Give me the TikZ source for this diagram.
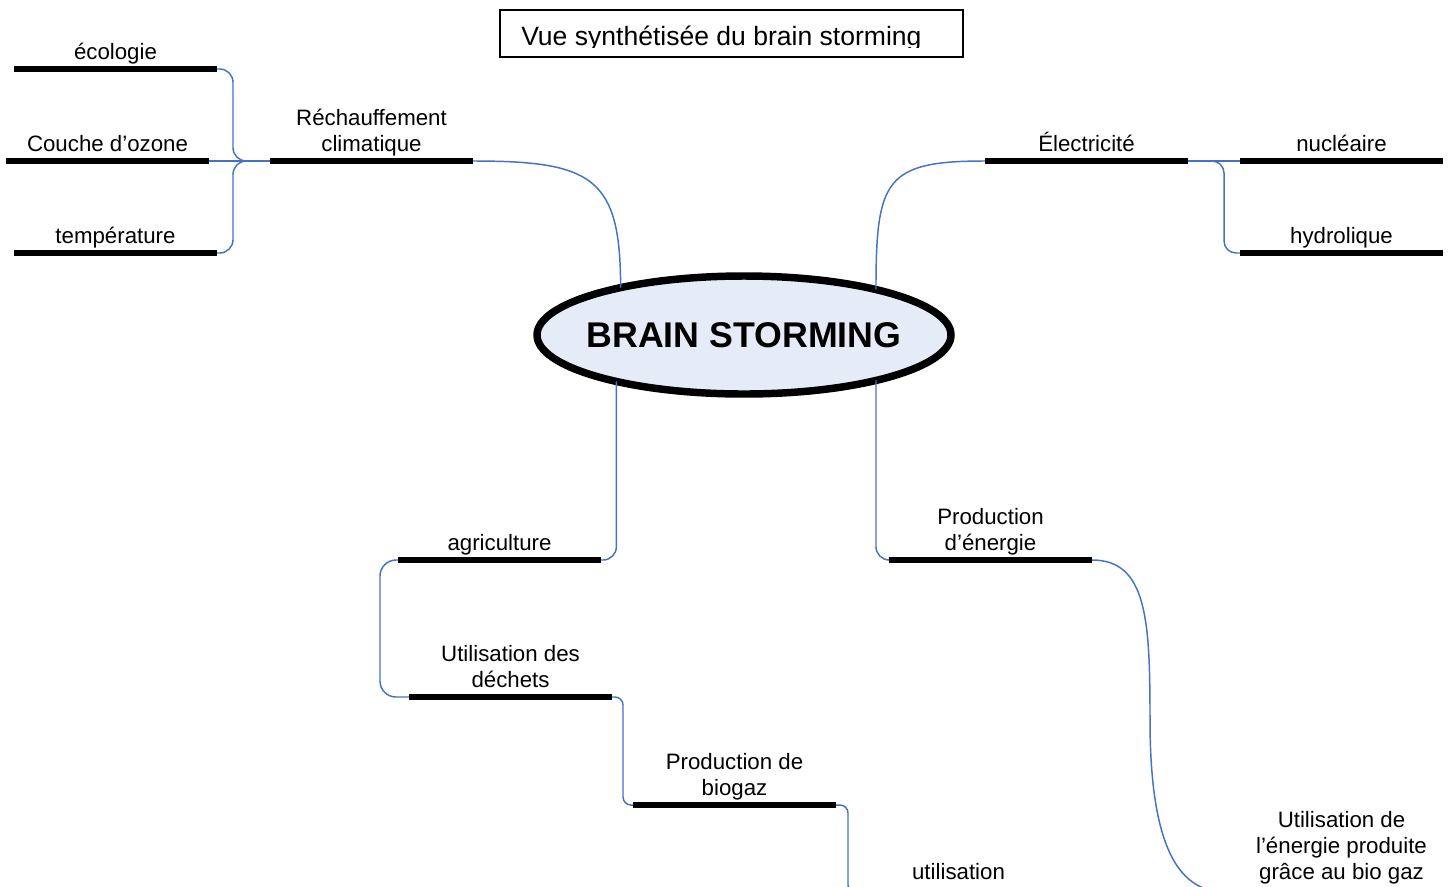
\documentclass[tikz,border=0pt]{standalone}
\usepackage{fontspec}
\setmainfont{Liberation Sans}
\usepackage{xcolor}
\usepackage{tikz}
\usetikzlibrary{shapes.geometric, positioning}

\definecolor{lien}{RGB}{68,114,196}
\definecolor{fond}{RGB}{230,236,247}

\begin{document}
\begin{tikzpicture}[x=0.75pt, y=-0.75pt,
  bar/.style={fill=black, inner sep=0pt, outer sep=0pt, minimum width=152.25pt, minimum height=4.5pt},
  lbl/.style={font=\fontsize{16.7pt}{19.5pt}\selectfont, align=center, inner sep=0pt, outer sep=0pt, execute at end node=\strut},
  link/.style={draw=lien, line width=1.1pt},
  hub/.style={ellipse, draw=black, line width=5.6pt, fill=fond, inner sep=0pt, outer sep=0pt, minimum width=310.5pt, minimum height=88.5pt},
  hubtxt/.style={font=\fontsize{26.8pt}{30pt}\selectfont\bfseries, inner sep=0pt}]
\useasboundingbox (0,0) rectangle (1451,886);
\clip (0,0) rectangle (1451,886);

% Titre
\node[draw, line width=1pt, inner sep=0pt, minimum width=347.25pt, minimum height=35.25pt] (titre) at (731.5,33.5) {};
\begin{scope}
\clip (500,10) rectangle (963,47);
\node[anchor=base west, inner sep=0pt, font=\fontsize{19.9pt}{24pt}\selectfont] (titre-t) at (521,45) {Vue synthétisée du brain storming};
\end{scope}

% Noeuds
\node[hub] (hub) at (744,335) {};
\node[hubtxt] (hub-t) at (hub.center) {BRAIN STORMING};

\node[bar] (eco) at (115.5,69) {};
\node[bar] (couche) at (107.5,161) {};
\node[bar] (temp) at (115.5,253) {};
\node[bar] (rech) at (371.5,161) {};
\node[bar] (elec) at (1086.5,161) {};
\node[bar] (nuc) at (1341.5,161) {};
\node[bar] (hydro) at (1341.5,253) {};
\node[bar] (agri) at (499.5,560) {};
\node[bar] (prod) at (990.5,560) {};
\node[bar] (dech) at (510.5,697) {};
\node[bar] (bio) at (734.5,805) {};
\node[bar] (util) at (958.5,893) {};
\node[bar] (enr) at (1341.5,893) {};

\node[lbl, above=-0.8pt of eco] (eco-l) {écologie};
\node[lbl, above=-0.8pt of couche] (couche-l) {Couche d’ozone};
\node[lbl, above=-0.8pt of temp] (temp-l) {température};
\node[lbl, above=-0.8pt of rech] (rech-l) {Réchauffement\\climatique};
\node[lbl, above=-0.8pt of elec] (elec-l) {Électricité};
\node[lbl, above=-0.8pt of nuc] (nuc-l) {nucléaire};
\node[lbl, above=-0.8pt of hydro] (hydro-l) {hydrolique};
\node[lbl, above=-0.8pt of agri] (agri-l) {agriculture};
\node[lbl, above=-0.8pt of prod] (prod-l) {Production\\d’énergie};
\node[lbl, above=-0.8pt of dech] (dech-l) {Utilisation des\\déchets};
\node[lbl, above=-0.8pt of bio] (bio-l) {Production de\\biogaz};
\node[lbl, above=2pt of util] (util-l) {utilisation};
\node[lbl, above=2pt of enr] (enr-l) {Utilisation de\\l’énergie produite\\grâce au bio gaz};

% Liens
\coordinate (lfork) at (233,161);
\coordinate (rfork) at (1224,161);
\coordinate (pbas) at (1150,720);

\draw[link, rounded corners=10pt] (eco.east) -| (lfork) -- (rech.west);
\draw[link, rounded corners=10pt] (temp.east) -| (lfork) -- (rech.west);
\draw[link] (couche.east) -- (rech.west);
\draw[link] (rech.east) .. controls +(120,0) and +(0,-110) .. (hub.159);

\draw[link] (elec.west) .. controls +(-100,0) and +(0,-110) .. (hub.19);
\draw[link] (elec.east) -- (nuc.west);
\draw[link, rounded corners=9pt] (elec.east) -- (rfork) |- (hydro.west);

\draw[link, rounded corners=10pt] (hub.200) |- (agri.east);
\draw[link, rounded corners=10pt] (hub.341) |- (prod.west);
\draw[link, rounded corners=12pt] (agri.west) -- ++(-18,0) |- (dech.west);
\draw[link, rounded corners=6pt] (dech.east) -- ++(11,0) |- (bio.west);
\draw[link, rounded corners=6pt] (bio.east) -- ++(12,0) |- (util.west);
\draw[link] (prod.east) .. controls +(55,0) and +(0,-100) .. (pbas) .. controls +(0,175) and +(-35,0) .. (enr.west);
\end{tikzpicture}
\end{document}
